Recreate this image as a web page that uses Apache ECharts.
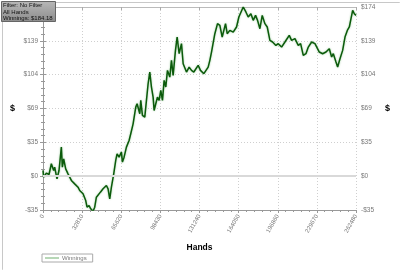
<!DOCTYPE html>
<html><head><meta charset="utf-8">
<script src="https://cdn.jsdelivr.net/npm/echarts@6/dist/echarts.min.js"></script>
<style>html,body{margin:0;padding:0;background:#fff}#c{width:400px;height:270px}</style>
</head><body><div id="c"></div>
<script>
var hands = [0,560,2800,5040,7000,8950,9790,11750,13430,15390,16230,17350,19030,20990,23790,26580,29380,30780,32180,33580,35820,36940,38620,40020,41970,43370,44770,46170,48130,50370,51770,53170,54570,55970,57370,59320,61000,62120,63800,65760,66600,68000,69960,72200,73600,75560,77790,78910,81150,81990,83390,85350,86750,88150,89550,90950,92340,93180,94580,95980,97380,98780,100180,101580,102980,104380,106340,107730,109130,111090,112490,114170,116130,117530,118930,120330,122560,124520,126480,130120,132080,134880,136280,138520,139920,141310,142710,144110,146350,148310,150270,151670,153070,154470,156700,159500,162300,164260,167900,170140,172100,174330,176290,178250,179930,181890,183850,186090,188050,190280,192520,195320,197280,200080,202880,204280,206510,208470,211270,214070,216030,218270,220510,222470,225260,228060,229460,231700,234500,237300,240090,242050,243450,245690,247090,249050,251290,253250,255210,256890,258290,259690,261080,262480];
var winnings = [5.8,-1.0,3.1,1.7,12.7,5.8,9.2,-2.7,5.8,29.8,9.2,17.8,7.5,2.4,-4.4,-7.9,-11.3,-14.7,-13.0,-18.1,-25.0,-31.8,-30.1,-33.5,-35.9,-31.8,-21.6,-23.3,-16.4,-13.0,-14.7,-9.6,-13.0,-23.3,-11.3,2.4,16.1,22.9,19.5,24.6,14.4,19.5,29.8,36.6,43.5,53.7,70.8,74.3,64.0,77.7,62.3,60.6,77.7,94.8,106.8,91.4,81.1,67.4,74.3,81.1,77.7,87.9,77.7,98.2,91.4,108.5,101.6,118.8,103.3,129.0,142.7,125.6,135.9,115.3,115.3,106.8,111.9,108.5,106.8,113.6,108.5,105.1,103.3,111.9,118.8,127.3,125.6,146.1,156.4,154.7,142.7,149.5,156.4,146.1,149.5,147.8,153.0,163.2,173.5,168.4,163.2,166.6,159.8,164.9,159.8,151.2,164.9,156.4,153.0,139.3,137.6,134.1,135.9,132.4,137.6,135.9,144.4,139.3,141.0,134.1,135.9,123.9,125.6,132.4,137.6,135.9,137.6,127.3,125.6,127.3,130.7,122.2,125.6,117.0,111.9,120.5,129.0,142.7,149.5,153.0,161.5,170.1,166.6,164.9];
var yTickLabels = ['-$35','$0','$35','$69','$104','$139','$174'];
var xTickLabels = ['0','32810','65620','98430','131240','164050','196860','229670','262480'];
var infoLines = ['Filter: No Filter','All Hands','Winnings: $184.18'];

var yStep = 34.7, xStep = 32810;
var FONT = 'Liberation Sans';
var data = hands.map(function(h,i){return [h, winnings[i]];});
function yFmt(v){var i=Math.round(v/yStep)+1;return yTickLabels[i]||'';}
function xFmt(v){var i=Math.round(v/xStep);return xTickLabels[i]||'';}
var gridStyle = {show:true,lineStyle:{color:'#cfcfcf',type:[1,2],width:1}};
function yAxis(pos){
  return {type:'value',position:pos,min:-yStep,max:5*yStep,interval:yStep,
    name:'$',nameLocation:'middle',nameRotate:0,nameGap:pos==='left'?28:29,
    nameTextStyle:{fontSize:9,fontWeight:'bold',color:'#000',fontFamily:FONT},
    axisLine:{show:true,lineStyle:{color:'#999'}},
    axisTick:{show:true,length:3,lineStyle:{color:'#999'}},
    minorTick:{show:true,splitNumber:5,length:2,lineStyle:{color:'#999'}},
    axisLabel:{formatter:yFmt,fontSize:6.5,color:'#777',fontFamily:FONT,margin:5},
    splitLine:pos==='left'?gridStyle:{show:false}};
}
var chart = echarts.init(document.getElementById('c'),null,{renderer:'canvas'});
chart.setOption({
  animation:false,
  backgroundColor:'#fff',
  grid:{left:43,right:44,top:7,bottom:60,containLabel:false},
  xAxis:[{type:'value',min:0,max:8*xStep,interval:xStep,position:'bottom',
    name:'Hands',nameLocation:'middle',nameGap:33,
    nameTextStyle:{fontSize:8.5,fontWeight:'bold',color:'#000',fontFamily:FONT},
    axisLine:{show:true,onZero:false,lineStyle:{color:'#999'}},
    axisTick:{show:true,length:3,lineStyle:{color:'#999'}},
    minorTick:{show:true,splitNumber:5,length:2,lineStyle:{color:'#999'}},
    axisLabel:{formatter:xFmt,rotate:60,fontSize:6,color:'#777',fontFamily:FONT,margin:5},
    splitLine:gridStyle},
   {type:'value',min:0,max:8*xStep,interval:xStep,position:'top',
    axisLine:{show:true,onZero:false,lineStyle:{color:'#bbb'}},
    axisTick:{show:true,inside:true,length:3,lineStyle:{color:'#aaa'}},
    minorTick:{show:false},axisLabel:{show:false},splitLine:{show:false}}],
  yAxis:[yAxis('left'),yAxis('right')],
  legend:{left:42,top:254,orient:'horizontal',itemWidth:14,itemHeight:4,itemGap:4,
    padding:[1,6,1,3],borderColor:'#aaa',borderWidth:1,
    textStyle:{fontSize:6,color:'#777',fontFamily:FONT,padding:[0,0,0,-2]},
    data:[{name:'Winnings',icon:'path://M0,0L16,0L16,1L0,1Z',itemStyle:{color:'#5aa35a'}}]},
  series:[{name:'Winnings',type:'line',data:data,showSymbol:false,symbol:'none',
    lineStyle:{color:'#0b5a0b',width:1.5,shadowColor:'rgba(90,170,90,0.6)',shadowBlur:2},
    itemStyle:{color:'#5aa35a'},
    markLine:{silent:true,symbol:'none',label:{show:false},
      lineStyle:{color:'#d9d9d9',type:'solid',width:2},data:[{yAxis:0}]}}],
  graphic:[
    {type:'rect',left:0,top:0,shape:{x:0.5,y:0.5,width:399,height:269,r:2},
     style:{fill:'none',stroke:'#c8c8c8',lineWidth:1},silent:true,z:0},
    {type:'rect',shape:{x:1.5,y:1.5,width:54,height:20},
     style:{fill:new echarts.graphic.LinearGradient(0,0,0,1,[{offset:0,color:'#b8b8b8'},{offset:1,color:'#8c8c8c'}]),stroke:'#666',lineWidth:1},z:100},
    {type:'text',left:3,top:2.5,style:{text:infoLines.join('\n'),fontSize:6,lineHeight:6.3,fill:'#111',fontFamily:FONT},z:101}
  ]
});
</script></body></html>
